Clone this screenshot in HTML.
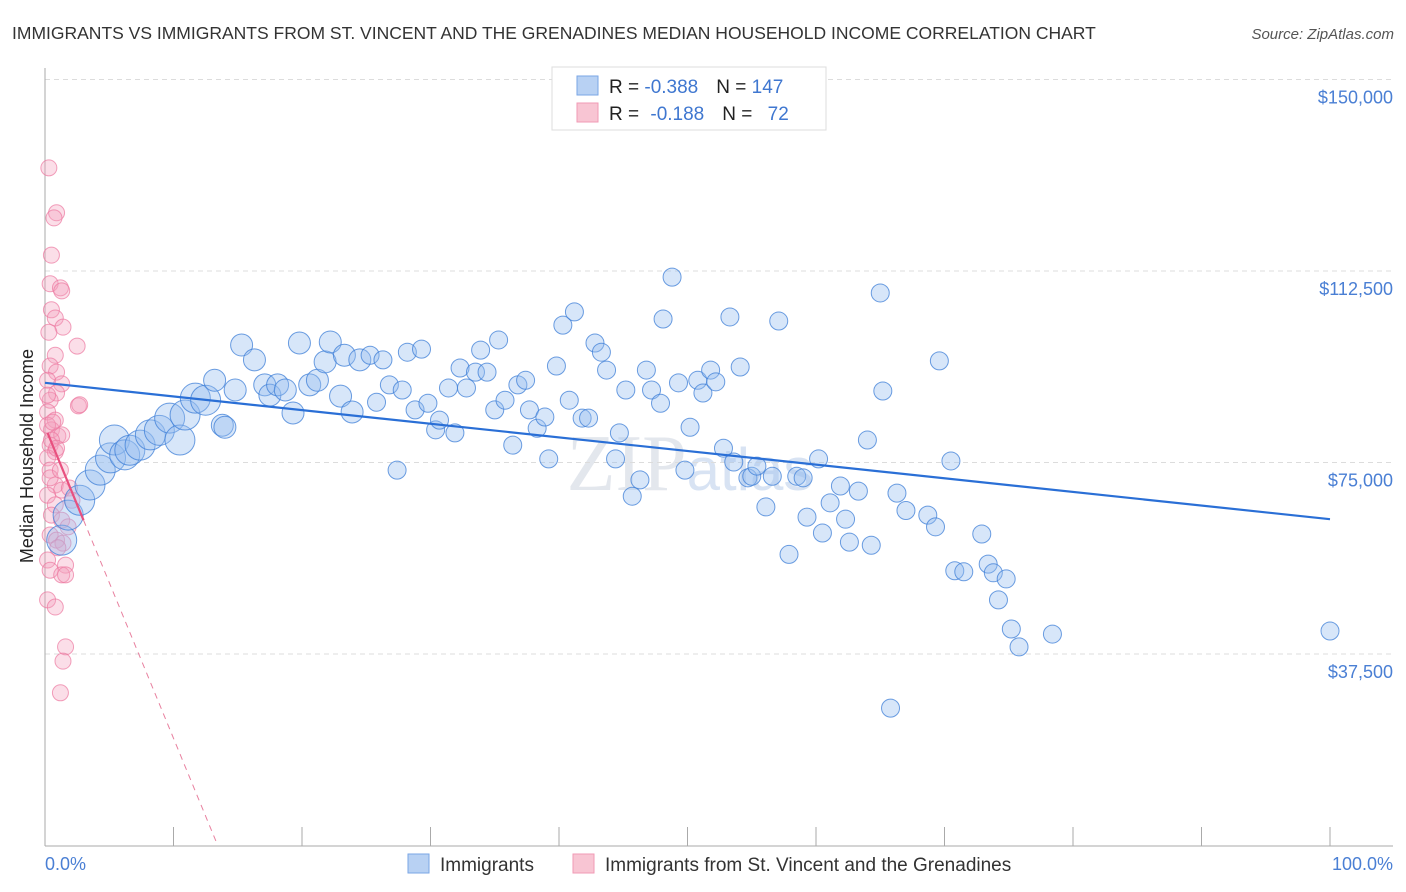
<!DOCTYPE html>
<html><head><meta charset="utf-8"><style>
body{margin:0;background:#fff;font-family:"Liberation Sans",sans-serif;}
svg{display:block}
</style></head><body>
<svg id="chart" width="1406" height="892" viewBox="0 0 1406 892" xmlns="http://www.w3.org/2000/svg">
<text x="12" y="39" font-size="17.5" fill="#333">IMMIGRANTS VS IMMIGRANTS FROM ST. VINCENT AND THE GRENADINES MEDIAN HOUSEHOLD INCOME CORRELATION CHART</text>
<text x="1394" y="39" font-size="15" fill="#555" font-style="italic" text-anchor="end">Source: ZipAtlas.com</text>
<text x="690" y="490" font-size="80" fill="#d8dde6" font-family="Liberation Serif" text-anchor="middle" opacity="0.7">ZIP<tspan fill="#c8d8ee" font-family="Liberation Sans" font-size="60">atlas</tspan></text>
<g id="grid"></g>
<g id="axes"></g>
<g id="pink-pts"></g>
<g id="blue-pts"></g>
<g id="trends"></g>
<text transform="translate(33,456) rotate(-90)" font-size="18" fill="#222" text-anchor="middle">Median Household Income</text>
<text x="45" y="870" font-size="18" fill="#4a7fd4">0.0%</text>
<text x="1393" y="870" font-size="18" fill="#4a7fd4" text-anchor="end">100.0%</text>
<g>
<rect x="552" y="67" width="274" height="63" fill="#fff" stroke="#ddd"/>
<rect x="577" y="76" width="21" height="19" fill="#b8d1f3" stroke="#7aa6e6"/>
<rect x="577" y="103" width="21" height="19" fill="#f8c5d3" stroke="#f19ab4"/>
<text x="609" y="93" font-size="19" fill="#222">R = <tspan fill="#3f77d0">-0.388</tspan><tspan dx="18">N = </tspan><tspan fill="#3f77d0">147</tspan></text>
<text x="609" y="120" font-size="19" fill="#222">R = <tspan dx="6" fill="#3f77d0">-0.188</tspan><tspan dx="18">N = </tspan><tspan dx="10" fill="#3f77d0">72</tspan></text>
</g>
<g>
<rect x="408" y="854" width="21" height="19" fill="#b8d1f3" stroke="#7aa6e6"/>
<text x="440" y="871" font-size="19" fill="#333">Immigrants</text>
<rect x="573" y="854" width="21" height="19" fill="#f8c5d3" stroke="#f19ab4"/>
<text x="605" y="871" font-size="19" fill="#333">Immigrants from St. Vincent and the Grenadines</text>
</g>
</svg>
<script>
const yTicks=[37.5,75,112.5,150];
const yTickLabels=["$37,500","$75,000","$112,500","$150,000"];
const xTicks=[0,10,20,30,40,50,60,70,80,90,100];
const blueX=[1.3,1.8,2.7,3.5,4.3,5.1,5.4,6.2,6.6,7.4,8.2,8.9,9.7,10.5,10.9,11.7,12.5,13.2,13.8,14.0,14.8,15.3,16.3,17.1,17.5,18.1,18.7,19.3,19.8,20.6,21.2,21.8,22.2,23.0,23.3,23.9,24.5,25.3,25.8,26.3,26.8,27.4,27.8,28.2,28.8,29.3,29.8,30.4,30.7,31.4,31.9,32.3,32.8,33.5,33.9,34.4,35.0,35.3,35.8,36.4,36.8,37.4,37.7,38.3,38.9,39.2,39.8,40.3,40.8,41.2,41.8,42.3,42.8,43.3,43.7,44.4,44.7,45.2,45.7,46.3,46.8,47.2,47.9,48.1,48.8,49.3,49.8,50.2,50.8,51.2,51.8,52.2,52.8,53.3,53.6,54.1,54.7,55.0,55.4,56.1,56.6,57.1,57.9,58.5,59.0,59.3,60.2,60.5,61.1,61.9,62.3,62.6,63.3,64.0,64.3,65.0,65.2,65.8,66.3,67.0,68.7,69.3,69.6,70.5,70.8,71.5,72.9,73.4,73.8,74.2,74.8,75.2,75.8,78.4,100];
const blueY=[59.8,64.7,67.6,70.6,73.5,75.9,79.4,76.5,77.4,78.4,80.4,81.3,83.7,79.4,84.3,87.6,87.2,91.1,82.3,81.9,89.2,98.0,95.1,90.2,88.2,90.2,89.2,84.7,98.4,90.2,91.1,94.7,98.6,88.0,96.0,84.9,95.1,96.0,86.8,95.1,90.2,73.5,89.2,96.6,85.3,97.2,86.6,81.4,83.3,89.6,80.8,93.5,89.6,92.7,97.0,92.7,85.3,99.0,87.2,78.4,90.2,91.1,85.3,81.7,83.9,75.7,93.9,101.9,87.2,104.5,83.7,83.7,98.4,96.6,93.1,75.7,80.8,89.2,68.4,71.6,93.1,89.2,86.6,103.1,111.3,90.6,73.5,81.9,91.1,88.6,93.1,90.8,77.8,103.5,75.1,93.7,72.0,72.3,74.3,66.3,72.3,102.7,57.0,72.3,72.0,64.3,75.7,61.2,67.1,70.4,63.9,59.4,69.4,79.4,58.8,108.2,89.0,26.9,69.0,65.6,64.7,62.4,94.9,75.3,53.8,53.6,61.0,55.1,53.4,48.1,52.2,42.4,38.9,41.4,42.0];
const pinkX=[0.3,0.9,0.7,0.5,0.4,1.2,1.3,0.5,0.8,1.4,0.3,2.5,0.8,0.4,0.9,0.2,1.3,0.9,0.4,2.6,2.7,0.2,0.8,0.5,1.0,1.3,0.4,0.8,0.2,0.4,0.8,1.3,1.9,0.2,0.8,0.5,1.3,1.8,0.4,0.9,1.4,1.0,0.2,0.4,1.6,1.3,1.6,0.2,0.8,1.6,1.4,1.2,0.2,0.5,0.9,0.4,0.6,0.2,1.2,2.1];
const pinkY=[132.7,123.9,122.9,115.6,110.0,109.2,108.6,104.9,103.3,101.5,100.5,97.8,96.0,93.9,92.7,91.1,90.4,88.6,87.2,86.1,86.3,84.9,83.3,81.4,80.2,80.4,78.4,77.1,75.9,73.5,70.6,69.6,70.0,68.6,66.7,64.7,63.7,62.4,60.8,59.8,59.2,58.3,55.9,53.9,54.9,53.0,53.0,48.1,46.7,38.9,36.1,29.9,82.3,79.4,77.8,72.0,82.9,88.2,73.5,67.6];
const blueTrend=[90.6,63.9];
const pinkTrend=[82.0,-6.1];

const NS="http://www.w3.org/2000/svg";
const X0=45,X1=1330,YBASE=845.5,YPER=191.5/37.5;
function sx(v){return X0+(X1-X0)*v/100;}
function sy(v){return YBASE-v*YPER;}
function mk(tag,attrs,parent){const e=document.createElementNS(NS,tag);for(const k in attrs)e.setAttribute(k,attrs[k]);parent.appendChild(e);return e;}
const grid=document.getElementById('grid'),axes=document.getElementById('axes');
yTicks.forEach((t,i)=>{
  const l=mk('line',{x1:45,x2:1393,y1:sy(t),y2:sy(t),stroke:'#dcdcdc','stroke-dasharray':'5,4'},grid);
  
  
  const tx=mk('text',{x:1393,y:sy(t)+24,'font-size':18,fill:'#4a7fd4','text-anchor':'end'},axes);
  tx.textContent=yTickLabels[i];
  
  
});
const ya=mk('line',{x1:45,x2:45,y1:68,y2:846,stroke:'#aaa'},axes);


const xa=mk('line',{x1:45,x2:1393,y1:846,y2:846,stroke:'#aaa'},axes);


xTicks.forEach(t=>{
  const l=mk('line',{x1:sx(t),x2:sx(t),y1:827,y2:846,stroke:'#aaa'},axes);
  
  
});
const pg=document.getElementById('pink-pts');
pinkX.forEach((x,i)=>{
  const c=mk('circle',{cx:sx(x),cy:sy(pinkY[i]),r:8,fill:'rgba(244,160,188,0.35)',stroke:'rgba(236,120,160,0.7)','stroke-width':1},pg);
  
  
});
const bg=document.getElementById('blue-pts');
blueX.forEach((x,i)=>{
  const r=x<13?15:(x<25?11:9);
  const c=mk('circle',{cx:sx(x),cy:sy(blueY[i]),r:r,fill:'rgba(150,190,240,0.38)',stroke:'rgba(60,125,215,0.75)','stroke-width':1},bg);
  
  
});
const tg=document.getElementById('trends');
const bl=mk('line',{x1:sx(0),y1:sy(blueTrend[0]),x2:sx(100),y2:sy(blueTrend[1]),stroke:'#2a6fd6','stroke-width':2.2},tg);


const pf=x=>pinkTrend[0]+pinkTrend[1]*x;
const ps=mk('line',{x1:sx(0.2),y1:sy(pf(0.2)),x2:sx(3),y2:sy(pf(3)),stroke:'#e8507f','stroke-width':2.2},tg);


const xEnd=(pinkTrend[0]-0)/(-pinkTrend[1]);
const pd=mk('line',{x1:sx(3),y1:sy(pf(3)),x2:sx(xEnd),y2:sy(0),stroke:'#e8809f','stroke-width':1,'stroke-dasharray':'6,5'},tg);


</script>
</body></html>
